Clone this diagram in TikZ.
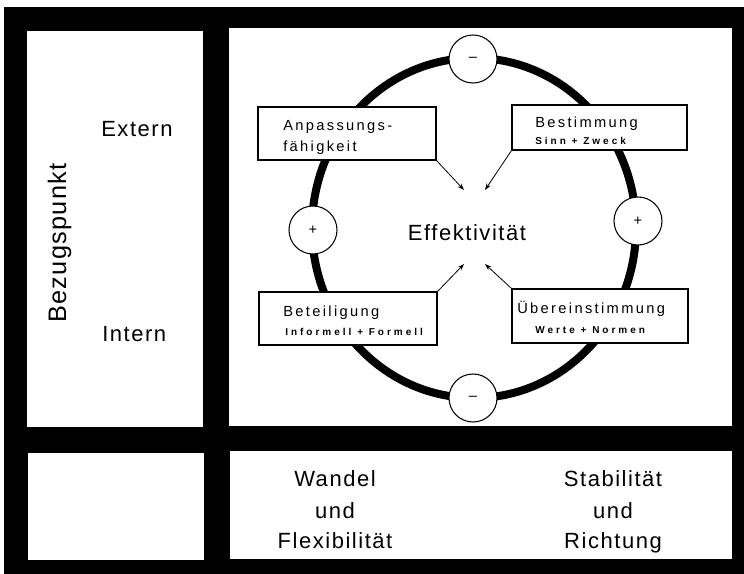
\documentclass[tikz,border=0pt]{standalone}
\usepackage{fontspec}
\setmainfont{Liberation Sans}
\newfontfamily\widefont{Liberation Sans}[LetterSpace=7]
\newfontfamily\bezfont{Liberation Sans}[LetterSpace=5]
\newfontfamily\boxfont{Liberation Sans}[LetterSpace=16]
\newfontfamily\smallfont{Liberation Sans}[LetterSpace=30]
\usetikzlibrary{arrows.meta}
\tikzstyle{panel}=[fill=white]
\tikzstyle{bigtext}=[inner sep=0pt,font=\widefont\fontsize{16.5}{19}\selectfont]
\tikzstyle{itembox}=[draw,fill=white,line width=0.8pt,inner sep=0pt]
\tikzstyle{itemtitle}=[inner sep=0pt,anchor=base west,font=\boxfont\fontsize{11}{13}\selectfont]
\tikzstyle{itemsub}=[inner sep=0pt,anchor=base west,font=\smallfont\bfseries\fontsize{7.5}{9}\selectfont]
\tikzstyle{sign}=[circle,draw,fill=white,line width=0.8pt,minimum size=36pt,inner sep=0pt,font=\fontsize{11}{12}\selectfont]
\tikzstyle{pointer}=[-{Stealth[length=5pt,width=3.5pt]},line width=0.6pt]
\newcommand{\drawitembox}[4]{% name, center, width, height (in px)
	\node[itembox,minimum width=#3*0.75pt,minimum height=#4*0.75pt] (#1) at (#2) {};
}
\begin{document}
\begin{tikzpicture}[x=0.75pt,y=-0.75pt]
	\useasboundingbox (0,0) rectangle (744,574);
	% black frame with the four panels
	\fill[black] (4,7) rectangle (744,574);
	\fill[panel] (27,31) rectangle (203,427);
	\fill[panel] (229,28) rectangle (732,426);
	\fill[panel] (28,453) rectangle (204,560);
	\fill[panel] (230,451) rectangle (732,559);
	% ring
	\draw[line width=6pt] (474,228) ellipse [x radius=162,y radius=170];
	\node[sign] (sgnT) at (473,59) {–};
	\node[sign] (sgnB) at (473,398) {–};
	\node[sign] (sgnL) at (313,230) {+};
	\node[sign] (sgnR) at (638,221) {+};
	% the four boxes
	\drawitembox{anp}{347,133.5}{178}{53}
	\drawitembox{best}{599.5,127.5}{175}{45}
	\drawitembox{bet}{348,318.5}{178}{53}
	\drawitembox{uber}{600,316}{176}{54}
	\node[itemtitle] (anpA) at (283,131) {Anpassungs-};
	\node[itemtitle] (anpB) at (283,152) {fähigkeit};
	\node[itemtitle] (bestA) at (535,128) {Bestimmung};
	\node[itemsub] (bestB) at (535,145) {Sinn + Zweck};
	\node[itemtitle] (betA) at (283,317) {Beteiligung};
	\node[itemsub] (betB) at (285,336) {Informell + Formell};
	\node[itemtitle] (uberA) at (517,314) {Übereinstimmung};
	\node[itemsub] (uberB) at (535,334) {Werte + Normen};
	% centre
	\node[bigtext] (eff) at (467,233) {Effektivität};
	\coordinate (tipA) at (464,190);
	\coordinate (tipB) at (485,190);
	\coordinate (tipC) at (464,264);
	\coordinate (tipD) at (485,264);
	\draw[pointer] (anp.south east) -- (tipA);
	\draw[pointer] (best.south west) -- (tipB);
	\draw[pointer] (bet.north east) -- (tipC);
	\draw[pointer] (uber.north west) -- (tipD);
	% left column
	\node[bigtext,rotate=90,anchor=base,font=\bezfont\fontsize{19}{22}\selectfont] (bez) at (66,243) {Bezugspunkt};
	\node[bigtext,anchor=base west] (ext) at (101,137) {Extern};
	\node[bigtext,anchor=base west] (int) at (102,342) {Intern};
	% bottom row
	\foreach \t/\yy [count=\k] in {Wandel/487,und/518,Flexibilität/549}
		\node[bigtext,anchor=base] (wl\k) at (335,\yy) {\t};
	\foreach \t/\yy [count=\k] in {Stabilität/487,und/518,Richtung/549}
		\node[bigtext,anchor=base] (wr\k) at (613,\yy) {\t};
\end{tikzpicture}
\end{document}
